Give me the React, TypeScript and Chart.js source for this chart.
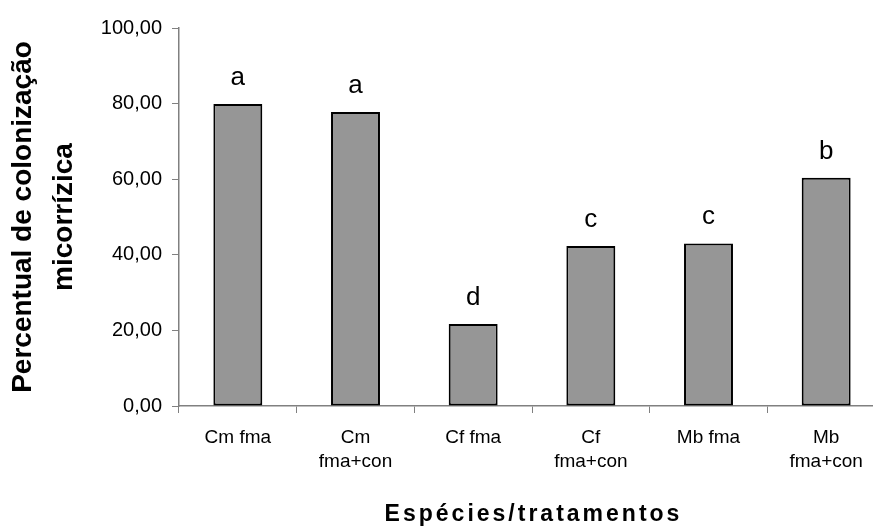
import React, { useEffect, useRef } from "react";
import { Chart, registerables } from "chart.js";

Chart.register(...registerables);

const categories: (string | string[])[] = [
  "Cm fma",
  ["Cm", "fma+con"],
  "Cf fma",
  ["Cf", "fma+con"],
  "Mb fma",
  ["Mb", "fma+con"],
];
const values = [79.9, 77.8, 21.7, 42.3, 43.0, 60.4];
const letters = ["a", "a", "d", "c", "c", "b"];
const yTickValues = [0, 20, 40, 60, 80, 100];
const yTitle = ["Percentual de colonização", "micorrízica"];
const xTitle = "Espécies/tratamentos";

const FONT = "'Liberation Sans', Arial, Helvetica, sans-serif";

const letterPlugin = {
  id: "letters",
  afterDatasetsDraw(chart: any) {
    const ctx = chart.ctx;
    const meta = chart.getDatasetMeta(0);
    ctx.save();
    ctx.font = `26px ${FONT}`;
    ctx.fillStyle = "#000";
    ctx.textAlign = "center";
    ctx.textBaseline = "alphabetic";
    meta.data.forEach((bar: any, i: number) => {
      ctx.fillText(letters[i], bar.x, bar.y - 19);
    });
    ctx.restore();
  },
};

const xTitlePlugin = {
  id: "xTitle",
  afterDraw(chart: any) {
    const ctx = chart.ctx;
    const area = chart.chartArea;
    ctx.save();
    ctx.font = `bold 23px ${FONT}`;
    (ctx as any).letterSpacing = "3px";
    ctx.fillStyle = "#000";
    ctx.textAlign = "center";
    ctx.textBaseline = "alphabetic";
    ctx.fillText(xTitle, (area.left + area.right) / 2 + 1.5, 521);
    ctx.restore();
  },
};

export default function App() {
  const canvasRef = useRef<HTMLCanvasElement | null>(null);

  useEffect(() => {
    const canvas = canvasRef.current;
    if (!canvas) return;
    const chart = new Chart(canvas, {
      type: "bar",
      data: {
        labels: categories,
        datasets: [
          {
            data: values,
            backgroundColor: "#969696",
            borderColor: "#000000",
            borderWidth: 2,
            borderSkipped: false,
            categoryPercentage: 1,
            barPercentage: 0.416,
          },
        ],
      },
      options: {
        animation: false,
        responsive: false,
        maintainAspectRatio: false,
        layout: { padding: { top: 28, right: 15, bottom: 0, left: 0 } },
        plugins: {
          legend: { display: false },
          tooltip: { enabled: false },
        },
        scales: {
          x: {
            offset: true,
            grid: {
              display: true,
              offset: true,
              drawOnChartArea: false,
              drawTicks: true,
              tickLength: 7,
              color: "#808080",
              lineWidth: 1,
            },
            border: { display: true, color: "#808080", width: 1.5 },
            ticks: {
              color: "#000",
              padding: 13,
              maxRotation: 0,
              autoSkip: false,
              font: { family: FONT, size: 19, lineHeight: 24 / 19 },
            },
            afterFit: (scale: any) => {
              scale.height = 121;
            },
          },
          y: {
            min: 0,
            max: 100,
            afterBuildTicks: (scale: any) => {
              scale.ticks = yTickValues.map((v) => ({ value: v }));
            },
            grid: {
              display: true,
              drawOnChartArea: false,
              drawTicks: true,
              tickLength: 7,
              color: "#808080",
              lineWidth: 1,
            },
            border: { display: true, color: "#808080", width: 1.5 },
            ticks: {
              color: "#000",
              padding: 10,
              font: { family: FONT, size: 20 },
              callback: (v: any) => Number(v).toFixed(2).replace(".", ","),
            },
            title: {
              display: true,
              text: yTitle,
              color: "#000",
              padding: { top: 3, bottom: 0 },
              font: { family: FONT, size: 28, weight: "bold", lineHeight: 41 / 28 },
            },
            afterFit: (scale: any) => {
              scale.width = 179;
            },
          },
        },
      },
      plugins: [letterPlugin, xTitlePlugin],
    });
    return () => chart.destroy();
  }, []);

  return (
    <div
      style={{
        position: "fixed",
        left: 0,
        top: 0,
        width: 873,
        height: 527,
        overflow: "hidden",
        background: "#fff",
      }}
    >
      <canvas ref={canvasRef} width={900} height={527} style={{ display: "block", width: 900, height: 527 }} />
    </div>
  );
}
